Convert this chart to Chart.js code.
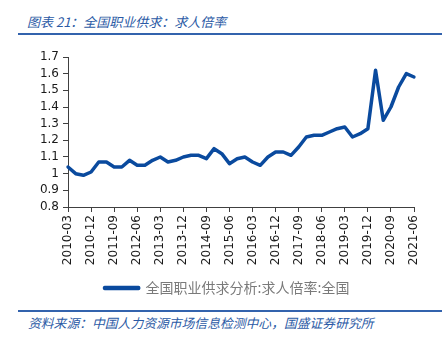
<!DOCTYPE html>
<html>
<head>
<meta charset="utf-8">
<script src="https://cdn.jsdelivr.net/npm/chart.js@4.4.0/dist/chart.umd.min.js"></script>
<style>
  html, body { margin: 0; padding: 0; background: #fff; width: 445px; height: 337px; overflow: hidden; }
  #title { position: absolute; left: 27px; top: 12px; font: italic 13px "Noto Sans CJK SC", sans-serif; color: #2b5aa5; white-space: nowrap; }
  .rule { position: absolute; left: 18px; width: 424px; height: 2px; background: #3363ad; }
  #source { position: absolute; left: 28px; top: 313px; font: italic 12.8px "Noto Sans CJK SC", sans-serif; color: #2b5aa5; white-space: nowrap; }
  #wrap { position: absolute; left: 0; top: 40px; width: 445px; height: 265px; }
</style>
</head>
<body>
<div id="title">图表 21：全国职业供求：求人倍率</div>
<div class="rule" style="top:33px"></div>
<div id="wrap"><canvas id="c"></canvas></div>
<div class="rule" style="top:310px"></div>
<div id="source">资料来源：中国人力资源市场信息检测中心，国盛证券研究所</div>
<script>
// quarterly periods, 2010Q1 – 2021Q2
const quarters = [
  "2010-03","2010-06","2010-09","2010-12",
  "2011-03","2011-06","2011-09","2011-12",
  "2012-03","2012-06","2012-09","2012-12",
  "2013-03","2013-06","2013-09","2013-12",
  "2014-03","2014-06","2014-09","2014-12",
  "2015-03","2015-06","2015-09","2015-12",
  "2016-03","2016-06","2016-09","2016-12",
  "2017-03","2017-06","2017-09","2017-12",
  "2018-03","2018-06","2018-09","2018-12",
  "2019-03","2019-06","2019-09","2019-12",
  "2020-03","2020-06","2020-09","2020-12",
  "2021-03","2021-06"
];

// job-vacancy to job-seeker ratio, national
const ratio = [
  1.04, 1.00, 0.99, 1.01,
  1.07, 1.07, 1.04, 1.04,
  1.08, 1.05, 1.05, 1.08,
  1.10, 1.07, 1.08, 1.10,
  1.11, 1.11, 1.09, 1.15,
  1.12, 1.06, 1.09, 1.10,
  1.07, 1.05, 1.10, 1.13,
  1.13, 1.11, 1.16, 1.22,
  1.23, 1.23, 1.25, 1.27,
  1.28, 1.22, 1.24, 1.27,
  1.62, 1.32, 1.40, 1.52,
  1.60, 1.58
];

const seriesName = "全国职业供求分析:求人倍率:全国";
const lineColor = "#0a4a9e";
const axisColor = "#404040";
const tickFont = { family: "DejaVu Sans", size: 12 };

new Chart(document.getElementById("c"), {
  type: "line",
  data: {
    labels: quarters,
    datasets: [{
      label: seriesName,
      data: ratio,
      borderColor: lineColor,
      backgroundColor: lineColor,
      borderWidth: 3.5,
      borderCapStyle: "round",
      borderJoinStyle: "round",
      pointRadius: 0,
      tension: 0
    }]
  },
  options: {
    responsive: true,
    maintainAspectRatio: false,
    animation: false,
    layout: { padding: { top: 17, right: 31, bottom: 0, left: 40 } },
    plugins: {
      legend: {
        position: "bottom",
        labels: {
          boxWidth: 34,
          boxHeight: 1,
          padding: 10,
          color: "#7a7a7a",
          font: { family: "Noto Sans CJK SC", size: 14 }
        }
      },
      tooltip: { enabled: false }
    },
    scales: {
      x: {
        offset: false,
        border: { color: axisColor, width: 1 },
        grid: { drawOnChartArea: false, drawTicks: true, tickLength: 5, color: axisColor },
        ticks: {
          autoSkip: false,
          maxRotation: 90,
          minRotation: 90,
          padding: 3,
          color: "#1a1a1a",
          font: tickFont,
          callback: function (v, i) { return i % 3 === 0 ? quarters[i] : null; }
        },
        afterFit: function (s) { s.height = 64; }
      },
      y: {
        min: 0.8,
        max: 1.7,
        border: { color: axisColor, width: 1 },
        grid: { drawOnChartArea: false, drawTicks: true, tickLength: 5, color: axisColor },
        ticks: {
          stepSize: 0.1,
          autoSkip: false,
          padding: 4,
          color: "#1a1a1a",
          font: tickFont,
          callback: function (v) { return String(Number(v.toFixed(1))); }
        },
        afterFit: function (s) { s.width = 28; }
      }
    }
  }
});
</script>
</body>
</html>
